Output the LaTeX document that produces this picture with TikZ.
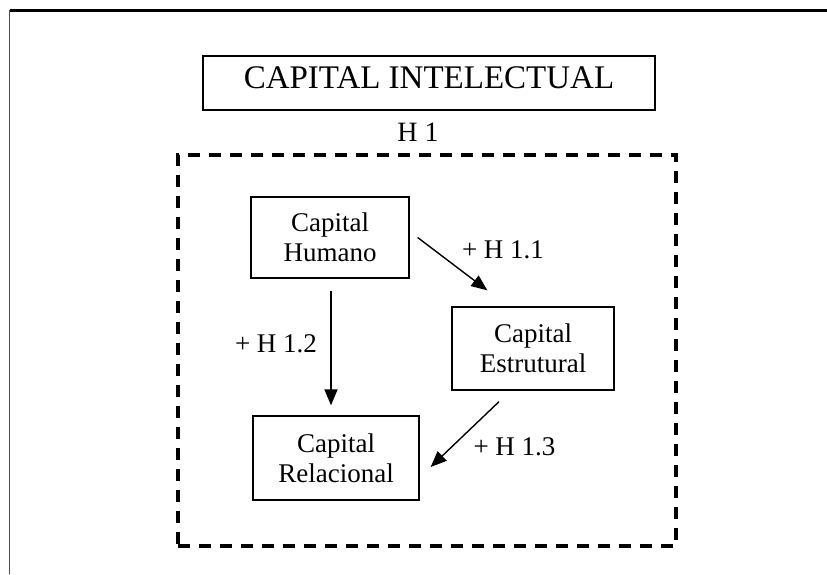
\documentclass[tikz,border=0pt]{standalone}
\usepackage{fontspec}
\setmainfont{Liberation Serif}
\usetikzlibrary{arrows.meta}

\tikzset{
  framerule/.style={line width=3pt, black},
  sideline/.style={line width=1.4pt, black!70},
  hbox/.style={draw, line width=1.3pt, inner sep=0pt, align=center,
    font=\fontsize{27}{30}\selectfont},
  groupbox/.style={draw, line width=3.2pt, dash pattern=on 12pt off 9pt},
  hlabel/.style={anchor=base, inner sep=0pt, font=\fontsize{27}{30}\selectfont},
  link/.style={line width=1.4pt, -{Triangle[length=16pt,width=13pt]}},
}

\begin{document}
\begin{tikzpicture}[x=1pt, y=-1pt]
  \useasboundingbox (0,0) rectangle (827,574);

  % page frame: top rule and left edge
  \coordinate (ftl) at (9.7,10);
  \coordinate (ftr) at (827,10);
  \coordinate (fbl) at (9.7,574);
  \draw[framerule] (ftl) -- (ftr);
  \draw[sideline] (ftl) -- (fbl);

  % overall construct
  \node[hbox, minimum width=452pt, minimum height=54pt,
        font=\fontsize{33}{36}\selectfont, text height=19pt, text depth=9pt]
        (ci) at (429,83) {CAPITAL INTELECTUAL};
  \node[hlabel, font=\fontsize{28}{30}\selectfont] (h1) at (418,141) {H 1};

  % dashed group of the three dimensions
  \node[groupbox, minimum width=498pt, minimum height=391pt, inner sep=0pt]
        (grp) at (427,350.5) {};

  % dimensions
  \node[hbox, minimum width=158pt, minimum height=81pt] (hum) at (330,237.5) {Capital\\Humano};
  \node[hbox, minimum width=162pt, minimum height=83pt] (est) at (533,348.5) {Capital\\Estrutural};
  \node[hbox, minimum width=166pt, minimum height=84pt] (rel) at (336,458) {Capital\\Relacional};

  % hypotheses
  \draw[link] ([xshift=8pt]hum.east) -- ([xshift=36pt,yshift=16pt]est.north west);
  \draw[link] ([xshift=1pt,yshift=-12pt]hum.south) -- ([xshift=1pt,yshift=10pt]hum.south |- rel.north);
  \draw[link] ([xshift=-34pt,yshift=-11pt]est.south) -- ([xshift=11pt,yshift=-9pt]rel.east);

  \node[hlabel] (l11) at (503,258) {+ H 1.1};
  \node[hlabel] (l12) at (276,352) {+ H 1.2};
  \node[hlabel] (l13) at (514.5,455) {+ H 1.3};
\end{tikzpicture}
\end{document}
